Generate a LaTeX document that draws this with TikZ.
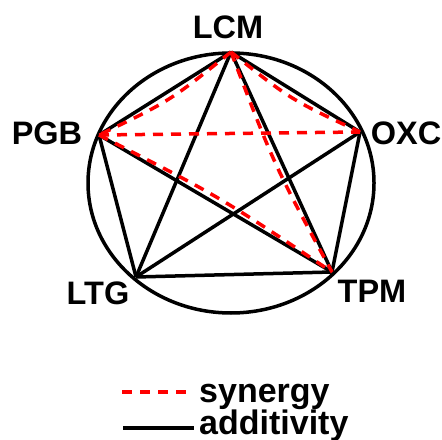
\documentclass[tikz,border=0pt]{standalone}
\usepackage{fontspec}
\setmainfont{Liberation Sans}
\usetikzlibrary{calc}
\tikzset{
  add/.style={black, line width=3.5bp},
  syn/.style={red, line width=3.5bp, dash pattern=on 10bp off 8bp},
  lbl/.style={inner sep=0pt, anchor=base, font=\fontsize{32.5bp}{38bp}\selectfont\bfseries},
  leg/.style={inner sep=0pt, anchor=base west, font=\fontsize{34bp}{40bp}\selectfont\bfseries}
}
\begin{document}
\begin{tikzpicture}[x=1bp, y=-1bp]
\useasboundingbox (0,0) rectangle (442,440);
% outer ring
\coordinate (ctr) at (231,183);
\draw[add] (ctr) ellipse [x radius=143, y radius=130];
% vertices
\coordinate (lcm) at (231,52);
\coordinate (pgb) at (99,135);
\coordinate (oxc) at (360,132);
\coordinate (ltg) at (136,277);
\coordinate (tpm) at (332,272);
% labels
\node[lbl] (tlcm) at (228,39) {LCM};
\node[lbl] (tpgb) at (47,145) {PGB};
\node[lbl] (toxc) at (406,145) {OXC};
\node[lbl] (tltg) at (98,304) {LTG};
\node[lbl] (ttpm) at (372,302) {TPM};
% additive pairs
\draw[add] (lcm) -- (pgb);
\draw[add] (lcm) -- (oxc);
\draw[add] (lcm) -- (ltg);
\draw[add] (lcm) -- (tpm);
\draw[add] (pgb) -- (ltg);
\draw[add] (pgb) -- (tpm);
\draw[add] (oxc) -- (ltg);
\draw[add] (oxc) -- (tpm);
\draw[add] (ltg) -- (tpm);
% synergistic pairs
\draw[syn] (lcm) .. controls ($(lcm)!0.5!(pgb)!9bp!90:(pgb)$) .. (pgb);
\draw[syn] (lcm) .. controls ($(lcm)!0.5!(oxc)!9bp!-90:(oxc)$) .. (oxc);
\draw[syn] (lcm) .. controls ($(lcm)!0.5!(tpm)!8bp!-90:(tpm)$) .. (tpm);
\draw[syn] (pgb) .. controls ($(pgb)!0.5!(tpm)!8bp!90:(tpm)$) .. (tpm);
\draw[syn] (pgb) -- (oxc);
% legend
\coordinate (s1) at (122,392);
\coordinate (s2) at (190,392);
\coordinate (a1) at (123,428);
\coordinate (a2) at (194,428);
\draw[syn] (s1) -- (s2);
\draw[add] (a1) -- (a2);
\node[leg] (lsyn) at (199,402) {synergy};
\node[leg] (ladd) at (199,434) {additivity};
\end{tikzpicture}
\end{document}
